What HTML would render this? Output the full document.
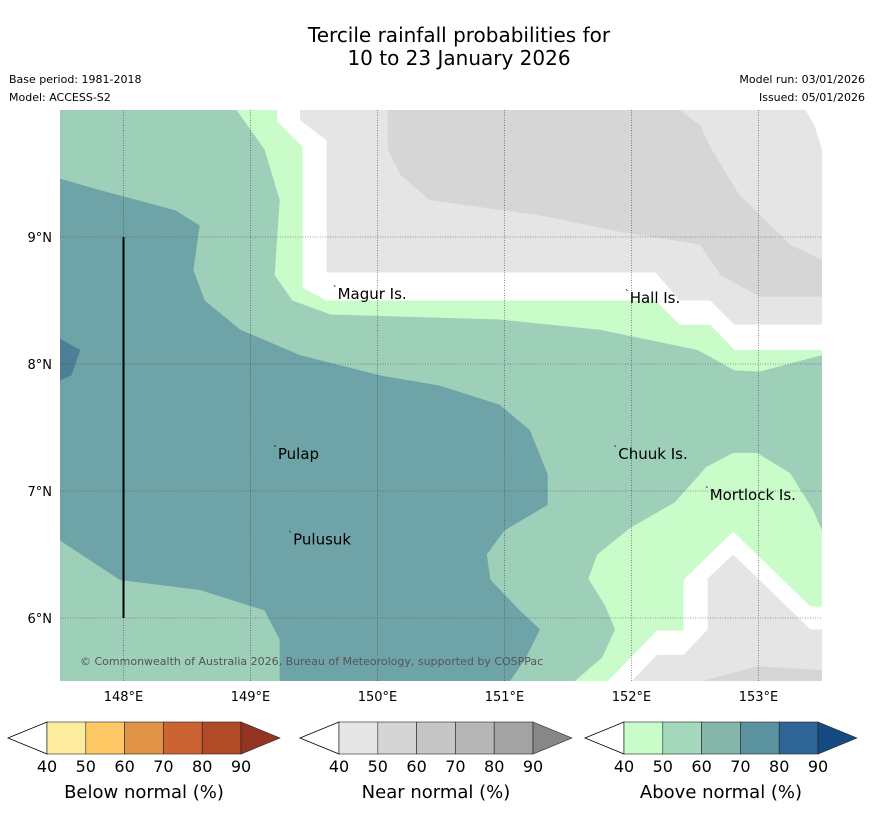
<!DOCTYPE html>
<html><head><meta charset="utf-8">
<style>
body{margin:0;background:#fff;font-family:"DejaVu Sans","Liberation Sans",sans-serif;}
svg text{font-family:"DejaVu Sans","Liberation Sans",sans-serif;}
</style></head>
<body>
<svg id="chart" width="873" height="816" viewBox="0 0 873 816" xmlns="http://www.w3.org/2000/svg">
<text x="459" y="42" font-size="20" text-anchor="middle">Tercile rainfall probabilities for</text>
<text x="459" y="65" font-size="20" text-anchor="middle">10 to 23 January 2026</text>
<text x="9" y="83" font-size="11">Base period: 1981-2018</text>
<text x="9" y="101" font-size="11">Model: ACCESS-S2</text>
<text x="865" y="83" font-size="11" text-anchor="end">Model run: 03/01/2026</text>
<text x="865" y="101" font-size="11" text-anchor="end">Issued: 05/01/2026</text>
<defs><clipPath id="mapclip"><rect x="60" y="110" width="762" height="571"/></clipPath></defs>
<g id="map" clip-path="url(#mapclip)"></g>
<g id="over"></g>
<g id="cbars"></g>
</svg>
<script>
const lonTicks=[148,149,150,151,152,153];
const latTicks=[6,7,8,9];
// contour polygons [lon,lat]
const teal60=[[147.5,9.46],[147.81,9.37],[148.41,9.21],[148.6,9.09],[148.55,8.74],[148.64,8.5],[148.92,8.27],[149.39,8.07],[150.02,7.91],[150.49,7.83],[150.96,7.68],[151.2,7.48],[151.34,7.13],[151.34,6.89],[151.0,6.69],[150.86,6.5],[150.89,6.3],[151.12,6.06],[151.28,5.91],[151.16,5.67],[151.04,5.5],[149.23,5.5],[149.23,5.83],[149.11,6.06],[148.6,6.22],[147.97,6.3],[147.5,6.61]];
const blue70=[[147.5,8.2],[147.66,8.11],[147.59,7.91],[147.5,7.87]];
const greenTop=[[148.89,10],[149.11,9.69],[149.23,9.29],[149.19,8.7],[149.33,8.5],[149.63,8.39],[150.96,8.35],[151.75,8.27],[152.52,8.11],[152.81,7.95],[153.01,7.94],[153.5,8.07],[153.5,10]];
const whiteTop=[[149.21,10],[149.21,9.91],[149.41,9.71],[149.41,8.6],[149.6,8.5],[152.19,8.5],[152.38,8.31],[152.62,8.31],[152.81,8.11],[153.5,8.11],[153.5,10]];
const grayTop=[[149.39,10],[149.39,9.92],[149.6,9.76],[149.6,8.72],[152.19,8.72],[152.38,8.5],[152.62,8.5],[152.81,8.31],[153.5,8.31],[153.5,9.69],[153.44,9.88],[153.37,10]];
const gray2Top=[[150.08,10],[150.08,9.69],[150.18,9.49],[150.41,9.29],[151.28,9.17],[151.91,9.04],[152.54,8.94],[152.7,8.7],[153.01,8.53],[153.5,8.53],[153.5,8.82],[153.25,8.94],[152.85,9.33],[152.63,9.69],[152.54,9.88],[152.38,10]];
const greenBot=[[151.55,5.5],[151.77,5.69],[151.87,5.91],[151.79,6.1],[151.66,6.31],[151.73,6.5],[151.99,6.71],[152.34,6.91],[152.59,7.19],[152.8,7.3],[152.99,7.3],[153.25,7.14],[153.43,6.85],[153.5,6.69],[153.5,5.5]];
const whiteBot=[[151.81,5.5],[152.2,5.9],[152.41,5.9],[152.41,6.3],[152.8,6.68],[153.41,6.09],[153.5,6.09],[153.5,5.5]];
const grayBot=[[152.0,5.5],[152.2,5.71],[152.41,5.71],[152.6,5.91],[152.6,6.31],[152.8,6.5],[153.41,5.91],[153.5,5.91],[153.5,5.5]];
const gray2Bot=[[152.54,5.5],[152.99,5.62],[153.5,5.59],[153.5,5.5]];
const islands=[["Magur Is.",149.67,8.55],["Hall Is.",151.97,8.52],["Pulap",149.2,7.29],["Chuuk Is.",151.88,7.29],["Mortlock Is.",152.6,6.97],["Pulusuk",149.32,6.62]];
const NS="http://www.w3.org/2000/svg";
const X=lon=>60+(lon-147.5)*127;
const Y=lat=>110+(10-lat)*127;
const map=document.getElementById('map'),over=document.getElementById('over'),cb=document.getElementById('cbars');
function mk(tag,attrs,parent){const e=document.createElementNS(NS,tag);for(const k in attrs)e.setAttribute(k,attrs[k]);parent.appendChild(e);return e;}
const bg=mk('rect',{x:60,y:110,width:762,height:571,fill:'#9dcfb9'},map);


function poly(pts,fill,name){const p=mk('polygon',{points:pts.map(q=>X(q[0])+','+Y(q[1])).join(' '),fill:fill},map);

}
poly(teal60,'#6ea4a8','above-normal-60-70-region');
poly(blue70,'#4c7e95','above-normal-70-80-region');
poly(greenTop,'#c9fcc9','above-normal-40-50-north');
poly(whiteTop,'#ffffff','no-dominant-north');
poly(grayTop,'#e5e5e5','near-normal-40-50-north');
poly(gray2Top,'#d6d6d6','near-normal-50-60-north');
poly(greenBot,'#c9fcc9','above-normal-40-50-south');
poly(whiteBot,'#ffffff','no-dominant-south');
poly(grayBot,'#e5e5e5','near-normal-40-50-south');
poly(gray2Bot,'#d6d6d6','near-normal-50-60-south');
lonTicks.forEach(l=>{const g=mk('line',{x1:X(l),x2:X(l),y1:110,y2:681,stroke:'#444','stroke-width':0.6,'stroke-dasharray':'1,1.5'},map);


const t=mk('text',{x:X(l),y:701,'font-size':13,'text-anchor':'middle'},over);t.textContent=l+'°E';

});
latTicks.forEach(l=>{const g=mk('line',{x1:60,x2:822,y1:Y(l),y2:Y(l),stroke:'#444','stroke-width':0.6,'stroke-dasharray':'1,1.5'},map);


const t=mk('text',{x:52,y:Y(l)+5,'font-size':13,'text-anchor':'end'},over);t.textContent=l+'°N';

});
const bl=mk('line',{x1:X(148),x2:X(148),y1:Y(9),y2:Y(6),stroke:'#000','stroke-width':2},map);


islands.forEach(d=>{const t=mk('text',{x:X(d[1])+2,y:Y(d[2])+5,'font-size':15},map);t.textContent=d[0];


const m=mk('text',{x:X(d[1])-3,y:Y(d[2])-1,'font-size':10},map);m.textContent='`';

});
const cp=mk('text',{x:80,y:665,'font-size':11,fill:'#555'},map);cp.textContent='© Commonwealth of Australia 2026, Bureau of Meteorology, supported by COSPPac';


// colorbars
const cbTicks=[40,50,60,70,80,90];
const cbDefs=[["Below normal (%)",8,['#feeca0','#fec965','#e09346','#cb6332','#b14a26'],'#933520'],
["Near normal (%)",300,['#e6e6e6','#d5d5d5','#c6c6c6','#b6b6b6','#a3a3a3'],'#878787'],
["Above normal (%)",585,['#c8fcc8','#a5d9bd','#84b7aa','#5a92a0','#2e6496'],'#154b82']];
cbDefs.forEach(c=>{const x0=c[1],y0=722,h=32,w=38.8,b0=x0+39;
const g=mk('g',{},cb);


mk('polygon',{points:`${b0},${y0} ${x0},${y0+h/2} ${b0},${y0+h}`,fill:'#fff',stroke:'#000','stroke-width':0.8},g);
c[2].forEach((col,i)=>{mk('rect',{x:b0+i*w,y:y0,width:w,height:h,fill:col,stroke:'#222','stroke-width':0.6},g);});
const be=b0+5*w;
mk('polygon',{points:`${be},${y0} ${be+39},${y0+h/2} ${be},${y0+h}`,fill:c[3],stroke:'#222','stroke-width':0.6},g);
cbTicks.forEach((t,i)=>{const tx=mk('text',{x:b0+i*w,y:772,'font-size':16,'text-anchor':'middle'},g);tx.textContent=t;});
const lt=mk('text',{x:b0+2.5*w,y:798,'font-size':18,'text-anchor':'middle'},g);lt.textContent=c[0];});
</script>
</body></html>
